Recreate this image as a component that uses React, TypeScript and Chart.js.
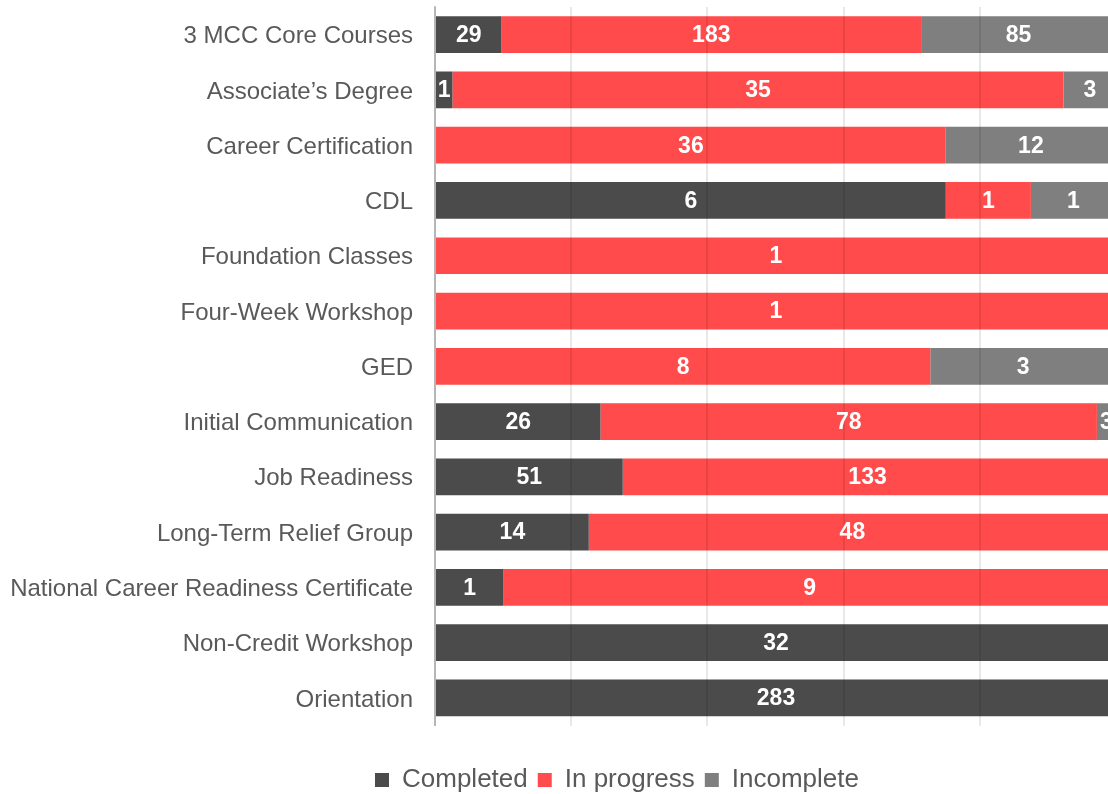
import React, { useEffect, useRef } from 'react';
import { Chart, registerables } from 'chart.js';

Chart.register(...registerables);

const categories = [
  '3 MCC Core Courses',
  'Associate’s Degree',
  'Career Certification',
  'CDL',
  'Foundation Classes',
  'Four-Week Workshop',
  'GED',
  'Initial Communication',
  'Job Readiness',
  'Long-Term Relief Group',
  'National Career Readiness Certificate',
  'Non-Credit Workshop',
  'Orientation',
];
const completed = [29, 1, 0, 6, 0, 0, 0, 26, 51, 14, 1, 32, 283];
const inProgress = [183, 35, 36, 1, 1, 1, 8, 78, 133, 48, 9, 0, 0];
const incomplete = [85, 3, 12, 1, 0, 0, 3, 3, 1, 0, 0, 0, 0];
const seriesNames = ['Completed', 'In progress', 'Incomplete'];
const seriesColors = ['#4b4b4b', '#ff4b4b', '#7f7f7f'];
const xTickStep = 20;
const xMax = 100;

const FONT = '"Liberation Sans", Arial, Helvetica, sans-serif';
const CANVAS_W = 1120;
const CANVAS_H = 803;

const valueLabels = {
  id: 'valueLabels',
  afterDraw(chart: any) {
    const ctx = chart.ctx;
    ctx.save();
    ctx.font = `bold 23px ${FONT}`;
    ctx.fillStyle = '#ffffff';
    ctx.textAlign = 'center';
    ctx.textBaseline = 'middle';
    chart.data.datasets.forEach((ds: any, i: number) => {
      const meta = chart.getDatasetMeta(i);
      meta.data.forEach((bar: any, j: number) => {
        const v = ds.counts[j];
        if (!v) return;
        const { x, y, base } = bar.getProps(['x', 'y', 'base'], true);
        ctx.fillText(String(v), (x + base) / 2, y + 1);
      });
    });
    ctx.restore();
  },
};

const legendShift = {
  id: 'legendShift',
  afterLayout(chart: any) {
    const lg = chart.legend;
    if (lg) {
      lg.left += 54;
      lg.right += 54;
    }
  },
};

export default function App() {
  const ref = useRef<HTMLCanvasElement | null>(null);

  useEffect(() => {
    if (!ref.current) return;
    const series = [completed, inProgress, incomplete];
    const totals = categories.map((_, j) => series.reduce((s, arr) => s + arr[j], 0));
    const chart = new Chart(ref.current, {
      type: 'bar',
      data: {
        labels: categories,
        datasets: series.map((arr, i) => ({
          label: seriesNames[i],
          data: arr.map((v, j) => (v / totals[j]) * 100),
          counts: arr,
          backgroundColor: seriesColors[i],
          borderWidth: 0,
          barPercentage: 0.664,
          categoryPercentage: 1,
        })) as any,
      },
      options: {
        indexAxis: 'y',
        responsive: false,
        animation: false,
        devicePixelRatio: 1,
        layout: { padding: { left: 10, right: 4, top: 7, bottom: 0 } },
        scales: {
          x: {
            stacked: true,
            min: 0,
            max: xMax,
            ticks: { display: false, stepSize: xTickStep },
            grid: { color: 'rgba(0,0,0,0.09)', lineWidth: 2, drawTicks: false, z: 1 },
            border: { display: false },
            afterFit: (s: any) => { s.height = 31.4; },
          },
          y: {
            stacked: true,
            grid: { display: false, drawTicks: false },
            border: { display: true, color: '#c8c8c8', width: 2 },
            ticks: { color: '#595959', padding: 22, labelOffset: 2, font: { family: FONT, size: 24 } },
            afterFit: (s: any) => {
              s.width = 425;
              s.paddingTop = 0;
              s.paddingBottom = 0;
            },
          },
        },
        plugins: {
          legend: {
            position: 'bottom',
            labels: {
              boxWidth: 14,
              boxHeight: 14,
              padding: 10,
              color: '#595959',
              font: { family: FONT, size: 26 },
            },
          },
          tooltip: { enabled: false },
        },
      } as any,
      plugins: [valueLabels, legendShift],
    });
    return () => chart.destroy();
  }, []);

  return (
    <div style={{ position: 'fixed', left: 0, top: 0, width: 1108, height: 794, overflow: 'hidden', background: '#fff' }}>
      <canvas ref={ref} width={CANVAS_W} height={CANVAS_H} style={{ display: 'block', width: CANVAS_W, height: CANVAS_H }} />
    </div>
  );
}
